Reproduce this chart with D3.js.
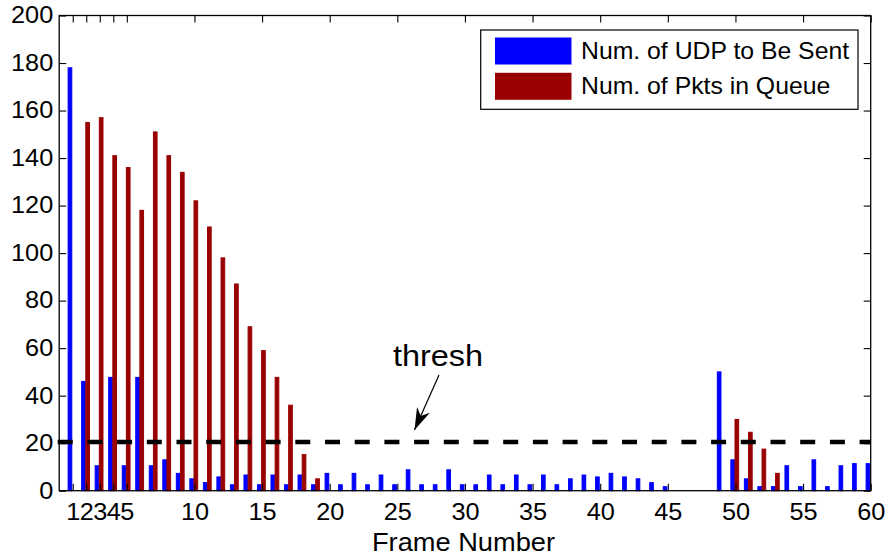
<!DOCTYPE html>
<html>
<head>
<meta charset="utf-8">
<script src="https://cdn.jsdelivr.net/npm/d3@7"></script>
<style>
  html, body { margin: 0; padding: 0; background: #fff; }
  text { font-family: "Liberation Sans", Arial, Helvetica, sans-serif; fill: #000; }
</style>
</head>
<body>
<svg id="chart" width="887" height="557"></svg>
<script>
// Frame indices 1..60
const frames = d3.range(1, 61);

// Number of UDP packets to be sent, per frame
const udpToSend = [
  178, 46, 10.5, 47.7, 10.5, 47.7, 10.5, 13, 7.3, 5,
  3.4, 5.8, 2.5, 6.6, 2.5, 6.6, 2.5, 6.6, 2.5, 7.3,
  2.5, 7.3, 2.5, 6.6, 2.5, 8.8, 2.5, 2.5, 8.8, 2.5,
  2.5, 6.6, 2.5, 6.6, 2.5, 6.6, 2.5, 5, 6.6, 5.8,
  7.3, 5.8, 5, 3.4, 1.7, 0, 0, 0, 50, 13,
  5, 1.7, 1.7, 10.5, 1.7, 13, 1.7, 10.5, 11.4, 11.4
];

// Number of packets waiting in the queue, per frame
const pktsInQueue = [
  0, 155, 157, 141, 136, 118, 151, 141, 134, 122,
  111, 98, 87, 69, 59, 47.7, 36, 15.2, 5, 0,
  0, 0, 0, 0, 0, 0, 0, 0, 0, 0,
  0, 0, 0, 0, 0, 0, 0, 0, 0, 0,
  0, 0, 0, 0, 0, 0, 0, 0, 0, 30,
  24.6, 17.5, 7.3, 0, 0, 0, 0, 0, 0, 0
];

const thresh = 20.5;

const seriesNames = ["Num. of UDP to Be Sent", "Num. of Pkts in Queue"];
const seriesColors = ["#0000ff", "#990000"];

const xTicks = [1, 2, 3, 4, 5, 10, 15, 20, 25, 30, 35, 40, 45, 50, 55, 60];
const yTicks = [0, 20, 40, 60, 80, 100, 120, 140, 160, 180, 200];

const svg = d3.select("#chart");
const plot = { left: 59.2, right: 870.7, top: 15.5, bottom: 490.7 };

const x = d3.scaleLinear().domain([0, 60]).range([plot.left, plot.right]);
const y = d3.scaleLinear().domain([0, 200]).range([plot.bottom, plot.top]);

// Bars: blue to the left of each frame, red to the right
const barW = 0.27;      // in frame units
const gap = 0.07;
const series = [udpToSend, pktsInQueue];
series.forEach((vals, si) => {
  svg.append("g")
    .selectAll("rect")
    .data(frames)
    .join("rect")
    .attr("x", d => si === 0 ? x(d - gap - barW) : x(d - gap) + 0.5)
    .attr("width", x(barW) - x(0))
    .attr("y", (d, i) => y(vals[i]))
    .attr("height", (d, i) => y(0) - y(vals[i]))
    .attr("fill", seriesColors[si])
    .attr("stroke", seriesColors[si])
    .attr("stroke-width", 1);
});

// Threshold line
svg.append("line")
  .attr("x1", plot.left - 1.5).attr("x2", plot.right)
  .attr("y1", y(thresh)).attr("y2", y(thresh))
  .attr("stroke", "#000")
  .attr("stroke-width", 4.5)
  .attr("stroke-dasharray", "15,14.7");

// Axes box with inward ticks on all four sides
const tickLen = 7;
const tickFont = 23;
const wide = 1.1;   // horizontal stretch of the lettering
svg.append("rect")
  .attr("x", plot.left).attr("y", plot.top)
  .attr("width", plot.right - plot.left).attr("height", plot.bottom - plot.top)
  .attr("fill", "none").attr("stroke", "#000").attr("stroke-width", 1.3);

const bottomAxis = d3.axisBottom(x).tickValues(xTicks).tickSize(-tickLen).tickFormat(d3.format("d"));
const topAxis = d3.axisTop(x).tickValues(xTicks).tickSize(-tickLen).tickFormat("");
const leftAxis = d3.axisLeft(y).tickValues(yTicks).tickSize(-tickLen);
const rightAxis = d3.axisRight(y).tickValues(yTicks).tickSize(-tickLen).tickFormat("");

function styleAxis(g) {
  g.select(".domain").remove();
  g.selectAll(".tick line").attr("stroke", "#000").attr("stroke-width", 1.1);
  g.selectAll(".tick text").attr("font-size", tickFont).attr("font-family", "Liberation Sans, Arial, sans-serif").attr("fill", "#000");
}

svg.append("g").attr("transform", `translate(0,${plot.bottom})`).call(bottomAxis).call(styleAxis)
  .selectAll(".tick text")
  .attr("y", null).attr("dy", null).attr("x", 0)
  .attr("transform", `translate(0,${29.5}) scale(${wide},1)`);
svg.append("g").attr("transform", `translate(0,${plot.top})`).call(topAxis).call(styleAxis);
svg.append("g").attr("transform", `translate(${plot.left},0)`).call(leftAxis).call(styleAxis)
  .selectAll(".tick text")
  .attr("x", 0)
  .attr("transform", `translate(-6,0) scale(${wide},1)`);
svg.append("g").attr("transform", `translate(${plot.right},0)`).call(rightAxis).call(styleAxis);

// X axis title
svg.append("text")
  .attr("transform", "translate(463.5,551) scale(1.09,1)")
  .attr("text-anchor", "middle")
  .attr("font-size", 25)
  .text("Frame Number");

// Threshold annotation
svg.append("text")
  .attr("transform", "translate(438,366) scale(1.12,1)")
  .attr("text-anchor", "middle")
  .attr("font-size", 29)
  .text("thresh");

svg.append("defs").append("marker")
  .attr("id", "arrowhead")
  .attr("viewBox", "0 0 10 10")
  .attr("refX", 10).attr("refY", 5)
  .attr("markerWidth", 22).attr("markerHeight", 14)
  .attr("markerUnits", "userSpaceOnUse")
  .attr("orient", "auto")
  .attr("preserveAspectRatio", "none")
  .append("path")
  .attr("d", "M0,0 L10,5 L0,10 L3,5 Z")
  .attr("fill", "#000");

svg.append("line")
  .attr("x1", 439).attr("y1", 375)
  .attr("x2", 414.5).attr("y2", 430)
  .attr("stroke", "#000").attr("stroke-width", 1.2)
  .attr("marker-end", "url(#arrowhead)");

// Legend
const legend = svg.append("g");
legend.append("rect")
  .attr("x", 480.7).attr("y", 30)
  .attr("width", 858 - 480.7).attr("height", 79.3)
  .attr("fill", "#fff").attr("stroke", "#000").attr("stroke-width", 1.2);

seriesNames.forEach((name, i) => {
  const top = i === 0 ? 37.5 : 72.8;
  legend.append("rect")
    .attr("x", 495).attr("y", top)
    .attr("width", 76.5).attr("height", 27)
    .attr("fill", seriesColors[i]);
  legend.append("text")
    .attr("transform", `translate(581,${top + 21.5}) scale(1.055,1)`)
    .attr("font-size", 23.5)
    .text(name);
});
</script>
</body>
</html>
